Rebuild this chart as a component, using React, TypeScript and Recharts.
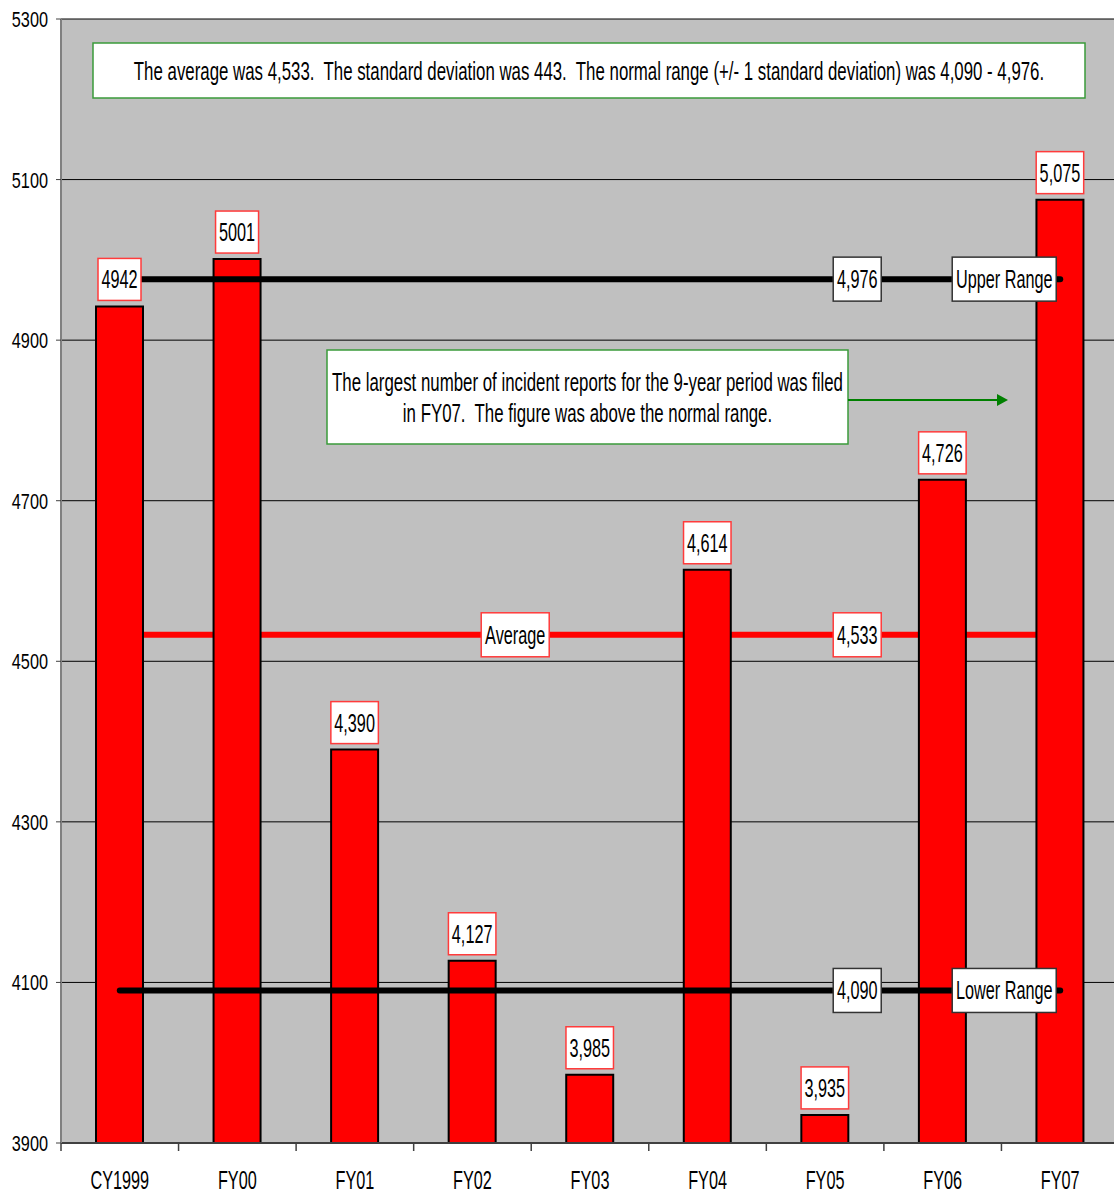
import React from 'react'
import { ComposedChart, Bar, Line, XAxis, YAxis, CartesianGrid, LabelList } from 'recharts'

const categories = ['CY1999', 'FY00', 'FY01', 'FY02', 'FY03', 'FY04', 'FY05', 'FY06', 'FY07']
const incidents = [4942, 5001, 4390, 4127, 3985, 4614, 3935, 4726, 5075]
const incidentLabels = ['4942', '5001', '4,390', '4,127', '3,985', '4,614', '3,935', '4,726', '5,075']
const upperRange = [4976, 4976, 4976, 4976, 4976, 4976, 4976, 4976, 4976]
const average = [4533, 4533, 4533, 4533, 4533, 4533, 4533, 4533, 4533]
const lowerRange = [4090, 4090, 4090, 4090, 4090, 4090, 4090, 4090, 4090]
const yTicks = [3900, 4100, 4300, 4500, 4700, 4900, 5100, 5300]

const summaryText =
  'The average was 4,533.  The standard deviation was 443.  The normal range (+/- 1 standard deviation) was 4,090 - 4,976.'
const noteLines = [
  'The largest number of incident reports for the 9-year period was filed',
  'in FY07.  The figure was above the normal range.',
]

const data = categories.map((name, i) => ({
  name,
  incidents: incidents[i],
  upper: upperRange[i],
  average: average[i],
  lower: lowerRange[i],
}))

// no Arial Narrow here, so squeeze Liberation Sans horizontally
const FONT = "'Liberation Sans', Arial, sans-serif"
const FS = 25
const SX = 0.65
const BAND = 1058 / 9

function Narrow({ x, y, size = FS, sx = SX, anchor = 'middle', children }: any) {
  return (
    <text
      transform={`translate(${x},${y}) scale(${sx},1)`}
      textAnchor={anchor}
      fontSize={size}
      fontFamily={FONT}
      fill="#000"
      style={{ whiteSpace: 'pre' }}
    >
      {children}
    </text>
  )
}

function textWidth(t: string) {
  let w = 0
  for (const ch of t) w += ch === ',' ? 4.5 : ch === ' ' ? 5 : 9
  return w
}

function BoxedText({ cx, cy, w, h, text, border }: any) {
  return (
    <g>
      <rect x={cx - w / 2} y={cy - h / 2} width={w} height={h} fill="#fff" stroke={border} strokeWidth={1.5} />
      <Narrow x={cx} y={cy + 9}>{text}</Narrow>
    </g>
  )
}

function BarValueLabel(props: any) {
  const { x, y, width, index } = props
  const text = incidentLabels[index]
  const w = textWidth(text) + 7
  return <BoxedText cx={x + width / 2} cy={y - 27} w={w} h={42} text={text} border="#ff3b3b" />
}

function rangeLabel(name: string, valueText: string, border: string, nameW: number, nameOffset: number) {
  return (props: any) => {
    const { x, y, index } = props
    if (index !== categories.length - 1) return null
    return (
      <g>
        <BoxedText cx={x - 203} cy={y} w={48} h={44} text={valueText} border={border} />
        <BoxedText cx={x - nameOffset} cy={y} w={nameW} h={44} text={name} border={border} />
      </g>
    )
  }
}

function CategoryTick(props: any) {
  const { x, y, payload, index } = props
  return (
    <g>
      <line x1={x - BAND / 2} y1={y} x2={x - BAND / 2} y2={y + 8} stroke="#404040" strokeWidth={1.5} />
      {index === categories.length - 1 && (
        <line x1={x + BAND / 2} y1={y} x2={x + BAND / 2} y2={y + 8} stroke="#404040" strokeWidth={1.5} />
      )}
      <Narrow x={x} y={y + 46}>{payload.value}</Narrow>
    </g>
  )
}

function ValueTick(props: any) {
  const { y, payload } = props
  return (
    <Narrow x={48} y={y + 8} size={22} sx={0.74} anchor="end">
      {payload.value}
    </Narrow>
  )
}

export default function App() {
  return (
    <div style={{ position: 'absolute', left: 0, top: 0, width: 1114, height: 1194, overflow: 'hidden', background: '#fff' }}>
      <ComposedChart width={1119} height={1194} data={data} margin={{ top: 19, right: 0, bottom: 0, left: 0 }}>
        <CartesianGrid vertical={false} fill="#c0c0c0" stroke="#000" strokeWidth={1} />
        <XAxis
          dataKey="name"
          height={51}
          tickSize={0}
          tickMargin={0}
          tick={<CategoryTick />}
          axisLine={{ stroke: '#404040', strokeWidth: 2 }}
          interval={0}
        />
        <YAxis
          width={61}
          domain={[3900, 5300]}
          ticks={yTicks}
          allowDataOverflow
          tickSize={5}
          tickMargin={8}
          tickLine={{ stroke: '#404040' }}
          axisLine={{ stroke: '#808080', strokeWidth: 2 }}
          tick={<ValueTick />}
        />
        <Line
          dataKey="average"
          stroke="#ff0000"
          strokeWidth={6}
          dot={false}
          activeDot={false}
          isAnimationActive={false}
          zIndex={250}
          label={rangeLabel('Average', '4,533', '#ff3b3b', 68, 545)}
        />
        <Bar dataKey="incidents" fill="#ff0000" stroke="#000" strokeWidth={2} barSize={47} isAnimationActive={false}>
          <LabelList dataKey="incidents" content={<BarValueLabel />} />
        </Bar>
        <Line
          dataKey="upper"
          stroke="#000"
          strokeWidth={6}
          strokeLinecap="round"
          dot={false}
          activeDot={false}
          isAnimationActive={false}
          label={rangeLabel('Upper Range', '4,976', '#333', 104, 56)}
        />
        <Line
          dataKey="lower"
          stroke="#000"
          strokeWidth={6}
          strokeLinecap="round"
          dot={false}
          activeDot={false}
          isAnimationActive={false}
          label={rangeLabel('Lower Range', '4,090', '#333', 104, 56)}
        />
      </ComposedChart>
      <svg style={{ position: 'absolute', left: 0, top: 0 }} width={1114} height={1194} pointerEvents="none">
        <rect x={93} y={43} width={992} height={55} fill="#fff" stroke="#3a9a3a" strokeWidth={1.5} />
        <Narrow x={589} y={80} sx={0.674}>{summaryText}</Narrow>
        <rect x={327} y={350} width={521} height={94} fill="#fff" stroke="#3a9a3a" strokeWidth={1.5} />
        <Narrow x={587.5} y={391} sx={0.674}>{noteLines[0]}</Narrow>
        <Narrow x={587.5} y={422} sx={0.674}>{noteLines[1]}</Narrow>
        <line x1={848} y1={400} x2={998} y2={400} stroke="#008000" strokeWidth={2} />
        <polygon points="1008,400 997,394 997,406" fill="#008000" />
      </svg>
    </div>
  )
}
